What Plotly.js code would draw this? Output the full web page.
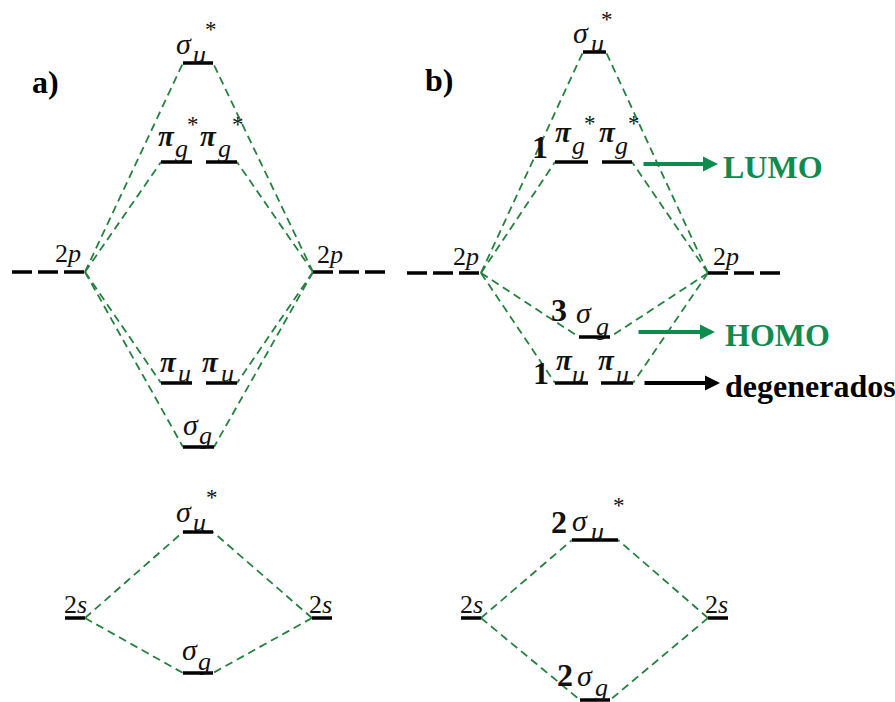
<!DOCTYPE html>
<html><head><meta charset="utf-8">
<script src="https://cdn.plot.ly/plotly-3.0.1.min.js"></script>
<style>html,body{margin:0;padding:0;background:#fff}#chart{width:895px;height:702px}</style>
</head><body><div id="chart"></div>
<script>
// ---------- DATA ----------
// Panel a: energy levels (x extent of each level, relative energy)
const levelsA = ['2p (izq.)','2p (der.)','σu*','πg*','πg*','πu','πu','σg','2s (izq.)','2s (der.)','σu* (2s)','σg (2s)'];
const x0A = [12, 313, 183, 161, 206, 161, 206, 183, 65, 312, 183, 183];
const x1A = [85, 385, 213, 192, 237, 192, 237, 214, 85, 332, 213, 213];
const eA  = [430, 430, 639, 540, 540, 319, 319, 255, 84, 84, 170, 29];
// Panel b
const levelsB = ['2p (izq.)','2p (der.)','σu*','1πg*','1πg*','3σg','1πu','1πu','2s (izq.)','2s (der.)','2σu*','2σg'];
const x0B = [407, 708, 583, 555, 602, 579, 555, 601, 461, 708, 572, 580];
const x1B = [481, 780, 606, 588, 632, 610, 588, 633, 481, 728, 618, 610];
const eB  = [429, 429, 650, 540, 540, 365, 319, 319, 84, 84, 162, 2];
// correlation lines: [atomic level, molecular level]
const linksA = [[0,2],[0,3],[0,5],[0,7],[1,2],[1,4],[1,6],[1,7],[8,10],[8,11],[9,10],[9,11]];
const linksB = [[0,2],[0,3],[0,5],[0,6],[1,2],[1,4],[1,5],[1,7],[8,10],[8,11],[9,10],[9,11]];
const dashedLevels = [0, 1];   // the 2p atomic levels drawn dashed
const leftAtomic = [0, 8];     // atomic levels on the left side
// labels: [level index, text, kind]
const labelsA = [
  [0,'2<i>p</i>','atom'],[1,'2<i>p</i>','atom'],[8,'2<i>s</i>','atom'],[9,'2<i>s</i>','atom'],
  [2,'σ','sym'],[2,'u','sub'],[2,'*','star'],
  [3,'π','pi'],[3,'g','sub'],[3,'*','star'],
  [4,'π','pi'],[4,'g','sub'],[4,'*','star'],
  [5,'π','pi'],[5,'u','sub'],
  [6,'π','pi'],[6,'u','sub'],
  [7,'σ','sym'],[7,'g','sub'],
  [10,'σ','sym'],[10,'u','sub'],[10,'*','star'],
  [11,'σ','sym'],[11,'g','sub']
];
const labelsB = [
  [0,'2<i>p</i>','atom'],[1,'2<i>p</i>','atom'],[8,'2<i>s</i>','atom'],[9,'2<i>s</i>','atom'],
  [2,'σ','sym'],[2,'u','sub'],[2,'*','star'],
  [3,'1','num'],[3,'π','pi'],[3,'g','sub'],[3,'*','star'],
  [4,'π','pi'],[4,'g','sub'],[4,'*','star'],
  [5,'3','num'],[5,'σ','sym'],[5,'g','sub'],
  [6,'1','num'],[6,'π','pi'],[6,'u','sub'],
  [7,'π','pi'],[7,'u','sub'],
  [10,'2','num'],[10,'σ','sym'],[10,'u','sub'],[10,'*','star'],
  [11,'2','num'],[11,'σ','sym'],[11,'g','sub']
];
const calloutText = ['LUMO','HOMO','degenerados'];
const calloutLevel = [4, 5, 7];          // panel b levels they point from
const panelTitles = ['a)','b)'];

// ---------- LAYOUT / STYLE (label offsets from level centre, px: dx right, dy up) ----------
const offA = [
  [19.5,19],[-19,18],[0,14],[-2,14],
  [-14,20],[1,9],[13,34],
  [-10,26],[5,14],[16,38],
  [-13,26],[3,14],[16,38],
  [-8,21],[8,10],
  [-11,21],[6,10],
  [-8,23],[7,12],
  [-14,21],[1,10],[14,35],
  [-8,24],[6,12]
];
const offB = [
  [22,17],[-18,17],[0,14],[-2,14],
  [-13.5,20],[2.5,9],[12.5,33],
  [-31.5,15],[-8.5,30],[6.5,17],[18.5,39],
  [-10,30],[4,17],[17,39],
  [-35.5,27],[-10.5,25],[7.5,11],
  [-30.5,10],[-7.5,23],[6.5,9],
  [-11,23],[5,9],
  [-36,18],[-15,20],[2,9],[24,35],
  [-30,25],[-10,25],[6,13]
];
const kindFont = {
  atom: {size: 26, pre: '', post: ''},
  sym:  {size: 30, pre: '<i>', post: '</i>'},
  pi:   {size: 29, pre: '<b><i>', post: '</i></b>'},
  sub:  {size: 26, pre: '<i>', post: '</i>'},
  star: {size: 23, pre: '', post: ''},
  num:  {size: 32, pre: '<b>', post: '</b>'}
};
const GREEN_LINE = '#25803f';
const GREEN_TXT = '#0e8c4e';
const FONT = 'Liberation Serif, Times New Roman, serif';

const traces = [];
const annotations = [];

function panel(x0, x1, e, links, labels, offs) {
  const sx = [], sy = [], dx = [], dy = [];
  for (let i = 0; i < e.length; i++) {
    const tx = dashedLevels.includes(i) ? dx : sx;
    const ty = dashedLevels.includes(i) ? dy : sy;
    tx.push(x0[i], x1[i], null); ty.push(e[i], e[i], null);
  }
  const lx = [], ly = [];
  links.forEach(([a, m]) => {
    const isLeft = leftAtomic.includes(a);
    lx.push(isLeft ? x1[a] : x0[a], isLeft ? x0[m] : x1[m], null);
    ly.push(e[a], e[m], null);
  });
  traces.push({x: lx, y: ly, mode: 'lines', line: {color: GREEN_LINE, width: 1.8, dash: '8px,5px'}, hoverinfo: 'skip'});
  traces.push({x: sx, y: sy, mode: 'lines', line: {color: '#000', width: 3.5}, hoverinfo: 'skip'});
  traces.push({x: dx, y: dy, mode: 'lines', line: {color: '#000', width: 3.5, dash: '20px,6px'}, hoverinfo: 'skip'});
  labels.forEach(([i, t, k], j) => {
    const f = kindFont[k];
    const cx = (x0[i] + x1[i]) / 2;
    annotations.push({
      x: cx + offs[j][0], y: e[i] + offs[j][1], xref: 'x', yref: 'y',
      text: f.pre + t + f.post, showarrow: false, xanchor: 'center', yanchor: 'middle',
      font: {family: FONT, size: f.size, color: '#111'}
    });
  });
}
panel(x0A, x1A, eA, linksA, labelsA, offA);
panel(x0B, x1B, eB, linksB, labelsB, offB);

annotations.push({x: 45, y: 620, xref: 'x', yref: 'y', text: '<b>' + panelTitles[0] + '</b>', showarrow: false,
  xanchor: 'center', yanchor: 'middle', font: {family: FONT, size: 32, color: '#000'}});
annotations.push({x: 439, y: 622, xref: 'x', yref: 'y', text: '<b>' + panelTitles[1] + '</b>', showarrow: false,
  xanchor: 'center', yanchor: 'middle', font: {family: FONT, size: 32, color: '#000'}});

const calloutTail = [10, 27, 10];
const calloutTip = [86, 105, 87];
const calloutDy = [-2, 5, 0];
const calloutColor = [GREEN_TXT, GREEN_TXT, '#000'];
calloutText.forEach((t, k) => {
  const i = calloutLevel[k];
  const yy = eB[i] + calloutDy[k];
  annotations.push({x: x1B[i] + calloutTip[k], y: yy, ax: x1B[i] + calloutTail[k], ay: yy,
    xref: 'x', yref: 'y', axref: 'x', ayref: 'y', text: '', showarrow: true,
    arrowhead: 2, arrowwidth: 4, arrowsize: 0.75, arrowcolor: calloutColor[k], standoff: 0, startstandoff: 0});
  annotations.push({x: x1B[i] + calloutTip[k] + (k === 1 ? 8 : 3), y: yy - 3, xref: 'x', yref: 'y',
    text: '<b>' + t + '</b>', showarrow: false, xanchor: 'left', yanchor: 'middle',
    font: {family: FONT, size: 32, color: calloutColor[k]}});
});

const layout = {
  width: 895, height: 702,
  margin: {l: 0, r: 0, t: 0, b: 0, pad: 0},
  paper_bgcolor: '#fff', plot_bgcolor: '#fff',
  showlegend: false,
  xaxis: {range: [0, 895], visible: false, fixedrange: true},
  yaxis: {range: [0, 702], visible: false, fixedrange: true},
  annotations: annotations
};
Plotly.newPlot('chart', traces, layout, {staticPlot: true, displayModeBar: false});
</script>
</body></html>
